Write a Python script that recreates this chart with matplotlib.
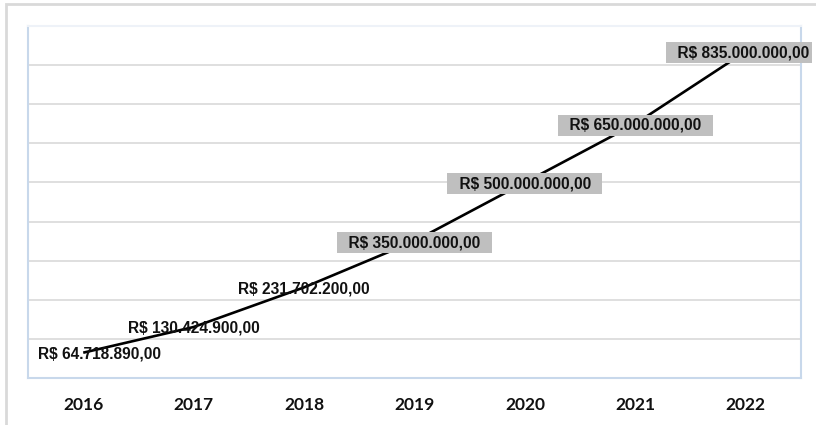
import matplotlib
matplotlib.use("Agg")
import matplotlib.pyplot as plt
from matplotlib.patches import Rectangle

# Annual values (R$)
years = ["2016", "2017", "2018", "2019", "2020", "2021", "2022"]
values = [64718890.00, 130424900.00, 231702200.00, 350000000.00,
          500000000.00, 650000000.00, 835000000.00]
labels = ["R$ 64.718.890,00", "R$ 130.424.900,00", "R$ 231.702.200,00",
          "R$ 350.000.000,00", "R$ 500.000.000,00", "R$ 650.000.000,00",
          "R$ 835.000.000,00"]

W, H, DPI = 816, 425, 100
fig = plt.figure(figsize=(W / DPI, H / DPI), dpi=DPI)
fig.patch.set_facecolor("white")

# outer chart frame
fig.patches.append(Rectangle((6 / W, -0.1), 1.2, (425 - 4) / H + 0.1,
                             transform=fig.transFigure, fill=False,
                             edgecolor="#D9D9D9", linewidth=2))

ax = fig.add_axes([28 / W, (H - 378) / H, (801 - 28) / W, (378 - 26) / H])
x = list(range(len(years)))
ax.set_xlim(-0.5, len(years) - 0.5)
ax.set_ylim(0, 900e6)
ax.set_yticks([i * 100e6 for i in range(10)])
ax.yaxis.grid(True, color="#D9D9D9", linewidth=1.2)
ax.set_axisbelow(True)
ax.tick_params(axis="y", length=0, labelleft=False)
ax.tick_params(axis="x", length=0, pad=14)
ax.set_xticks(x)
ax.set_xticklabels(years, fontfamily="Lato", fontweight="bold",
                   fontsize=12.5, color="#111111")

for side in ("left", "right", "bottom"):
    ax.spines[side].set_color("#C8D8EB")
    ax.spines[side].set_linewidth(1.5)
ax.spines["top"].set_color("#EEF2F8")
ax.spines["top"].set_linewidth(1.5)

ax.plot(x, values, color="black", linewidth=1.9, zorder=3,
        solid_capstyle="butt")

last = len(values) - 1
for i, (v, lab) in enumerate(zip(values, labels)):
    dx = 11.5 if i == 0 else 0
    kw = dict(fontfamily="Liberation Sans", fontweight="bold", fontsize=11.2,
              color="#111111", ha="center", va="center", zorder=5,
              annotation_clip=False)
    if i >= 3:
        kw["bbox"] = dict(boxstyle="square,pad=0.2", facecolor="#BFBFBF",
                          edgecolor="none")
        if i == last:
            # keep the last label inside the chart's right edge
            lab = "  " + lab
            dx = -5
        else:
            lab = "  " + lab + "  "
    ax.annotate(lab, (i, v), xytext=(dx, -1), textcoords="offset points",
                **kw)

fig.savefig("out.png", dpi=DPI)
